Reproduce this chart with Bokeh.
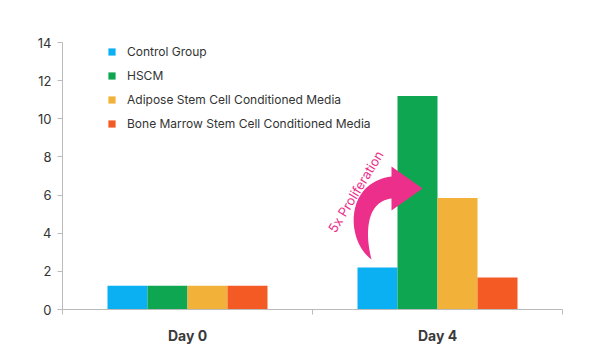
import numpy as np
from bokeh.plotting import figure
from bokeh.models import (ColumnDataSource, Range1d, FixedTicker, Legend, LegendItem)
from bokeh.transform import dodge
from bokeh.core.properties import value
from bokeh.embed import file_html
from bokeh.resources import INLINE

# ---- data ----
days = ["Day 0", "Day 4"]
series_names = ["Control Group", "HSCM", "Adipose Stem Cell Conditioned Media",
                "Bone Marrow Stem Cell Conditioned Media"]
control = [1.25, 2.2]
hscm = [1.25, 11.2]
adipose = [1.25, 5.85]
bone_marrow = [1.25, 1.68]
y_ticks = [0, 2, 4, 6, 8, 10, 12, 14]
annotation = "5x Proliferation"

colors = ["#0BB0F2", "#0EA650", "#F2B23A", "#F45A24"]
pink = "#EC2F8B"
FONT = "Inter"

xpos = [i + 0.5 for i in range(len(days))]
src = ColumnDataSource(dict(x=xpos, control=control, hscm=hscm,
                            adipose=adipose, bone=bone_marrow))

p = figure(width=600, height=363, output_backend="svg", toolbar_location=None,
           x_range=Range1d(0, len(days)), y_range=Range1d(0, 14),
           min_border_left=62, min_border_right=38, min_border_top=42,
           min_border_bottom=54)
p.outline_line_color = None
p.xgrid.visible = False
p.ygrid.visible = False
p.background_fill_color = "white"
p.border_fill_color = "white"

bw = 0.16
offsets = [-0.24, -0.08, 0.08, 0.24]
fields = ["control", "hscm", "adipose", "bone"]
renderers = []
for f, off, c in zip(fields, offsets, colors):
    r = p.vbar(x=dodge("x", off), top=f, width=bw, source=src,
               fill_color=c, line_color=None)
    renderers.append(r)

# axes
ax = p.xaxis[0]
ax.ticker = FixedTicker(ticks=xpos, minor_ticks=list(range(len(days) + 1)))
ax.major_label_overrides = {x: d for x, d in zip(xpos, days)}
ax.major_tick_line_color = None
ax.major_tick_out = 0
ax.major_tick_in = 0
ax.minor_tick_out = 5
ax.minor_tick_in = 0
ax.minor_tick_line_color = "#bbbbbb"
ax.axis_line_color = "#bbbbbb"
ax.major_label_standoff = 12
ax.major_label_text_font = FONT
ax.major_label_text_font_size = "14px"
ax.major_label_text_font_style = "bold"
ax.major_label_text_color = "#3a3a3a"

ay = p.yaxis[0]
ay.ticker = FixedTicker(ticks=y_ticks)
ay.minor_tick_line_color = None
ay.major_tick_out = 5
ay.major_tick_in = 0
ay.major_tick_line_color = "#bbbbbb"
ay.axis_line_color = "#bbbbbb"
ay.major_label_standoff = 6
ay.major_label_text_font = FONT
ay.major_label_text_font_size = "13px"
ay.major_label_text_color = "#333333"

# legend
items = [LegendItem(label=n, renderers=[r]) for n, r in zip(series_names, renderers)]
legend = Legend(items=items, location=(45, 176), glyph_width=9, glyph_height=9,
                label_standoff=11, label_height=20, spacing=4, padding=0, margin=0,
                border_line_color=None, background_fill_alpha=0,
                label_text_font=FONT, label_text_font_size="12px",
                label_text_color="#333333")
p.add_layout(legend)

# curved arrow annotation (geometry in screen px, converted to data)
fx0, fy0 = 62.0, 309.0
sx = 250.0
sy = (309.0 - 42.0) / 14.0


def to_data(px, py):
    return (np.asarray(px) - fx0) / sx, (fy0 - np.asarray(py)) / sy


def cubic(p0, p1, p2, p3, n=40):
    t = np.linspace(0, 1, n)[:, None]
    pts = ((1 - t) ** 3) * np.array(p0) + 3 * ((1 - t) ** 2) * t * np.array(p1) \
        + 3 * (1 - t) * t ** 2 * np.array(p2) + t ** 3 * np.array(p3)
    return pts


outer = cubic((371, 259), (345, 240), (344, 182), (391, 176))
inner = cubic((371, 259), (364, 232), (366, 201), (391, 198))
head = np.array([[391, 176], [391, 166], [422, 188], [391, 210], [391, 198]])
poly = np.vstack([outer, head, inner[::-1]])
axd, ayd = to_data(poly[:, 0], poly[:, 1])
p.patch(x=list(axd), y=list(ayd), fill_color=pink, line_color=None)

tx, ty = to_data(355, 191)
p.text(x=[float(tx)], y=[float(ty)], text=[annotation], angle=np.deg2rad(58.6),
       text_align="center", text_baseline="middle", text_color=pink,
       text_font=value(FONT), text_font_size="13px")

open("out.html", "w").write(file_html(p, INLINE))
